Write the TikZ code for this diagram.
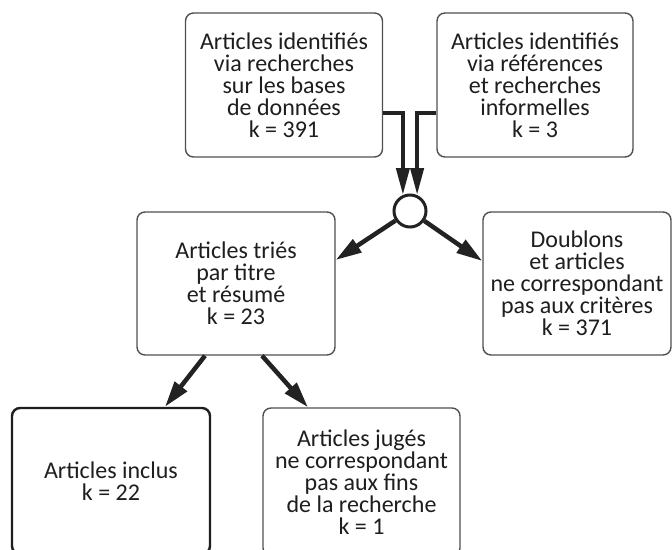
\documentclass[tikz,border=0pt]{standalone}
\usepackage{fontspec}
\setmainfont{Carlito}
\usetikzlibrary{arrows.meta,calc}
\definecolor{txt}{HTML}{1E1E1E}
\definecolor{edge}{HTML}{505050}
\definecolor{arr}{HTML}{222222}
\tikzset{
  box/.style={draw=edge, line width=1.4pt, rounded corners=8pt, align=center,
    text=txt, font=\fontsize{24pt}{22pt}\selectfont, inner sep=0pt, fill=white},
  boldbox/.style={box, draw=txt, line width=2.4pt},
  flow/.style={draw=arr, line width=4.5pt, -{Triangle[length=26pt,width=15pt]}},
  topflow/.style={draw=arr, line width=4pt, -{Triangle[length=27pt,width=13pt]}},
}
\begin{document}
\begin{tikzpicture}[x=1pt,y=1pt]
\useasboundingbox (0,0) rectangle (672,549);
\clip (0,0) rectangle (672,549);
\node[box, minimum width=197pt, minimum height=144pt] (b1) at (284,464)
  {Articles identifiés\\via recherches\\sur les bases\\de données\\k = 391};
\node[box, minimum width=196pt, minimum height=144pt] (b2) at (535,464)
  {Articles identifiés\\via références\\et recherches\\informelles\\k = 3};
\node[draw=arr, line width=3pt, circle, minimum size=32pt, inner sep=0pt, fill=white] (c) at (410,338) {};
\node[box, minimum width=198pt, minimum height=143pt] (b3) at (236,265.5)
  {Articles triés\\par titre\\et résumé\\k = 23};
\node[box, minimum width=188pt, minimum height=143pt] (b4) at (577,265.5)
  {Doublons\\et articles\\ne correspondant\\pas aux critères\\k = 371};
\node[boldbox, minimum width=198pt, minimum height=146pt] (b5) at (111,68)
  {Articles inclus\\k = 22};
\node[box, minimum width=197pt, minimum height=148pt] (b6) at (361.5,67)
  {Articles jugés\\ne correspondant\\pas aux fins\\de la recherche\\k = 1};
% top connectors
\draw[topflow] ($(b1.east)+(0,-28)$) -| (c.114);
\draw[topflow] ($(b2.west)+(0,-28)$) -| (c.66);
% from circle
\draw[flow] (c) -- ($(b3.east)+(0,23.5)$);
\draw[flow] (c) -- ($(b4.west)+(0,22.5)$);
% from b3
\draw[flow] ($(b3.south)+(-31,0)$) -- ($(b5.north)+(54,0)$);
\draw[flow] ($(b3.south)+(26,0)$) -- ($(b6.north)+(-53.5,0)$);
\end{tikzpicture}
\end{document}
